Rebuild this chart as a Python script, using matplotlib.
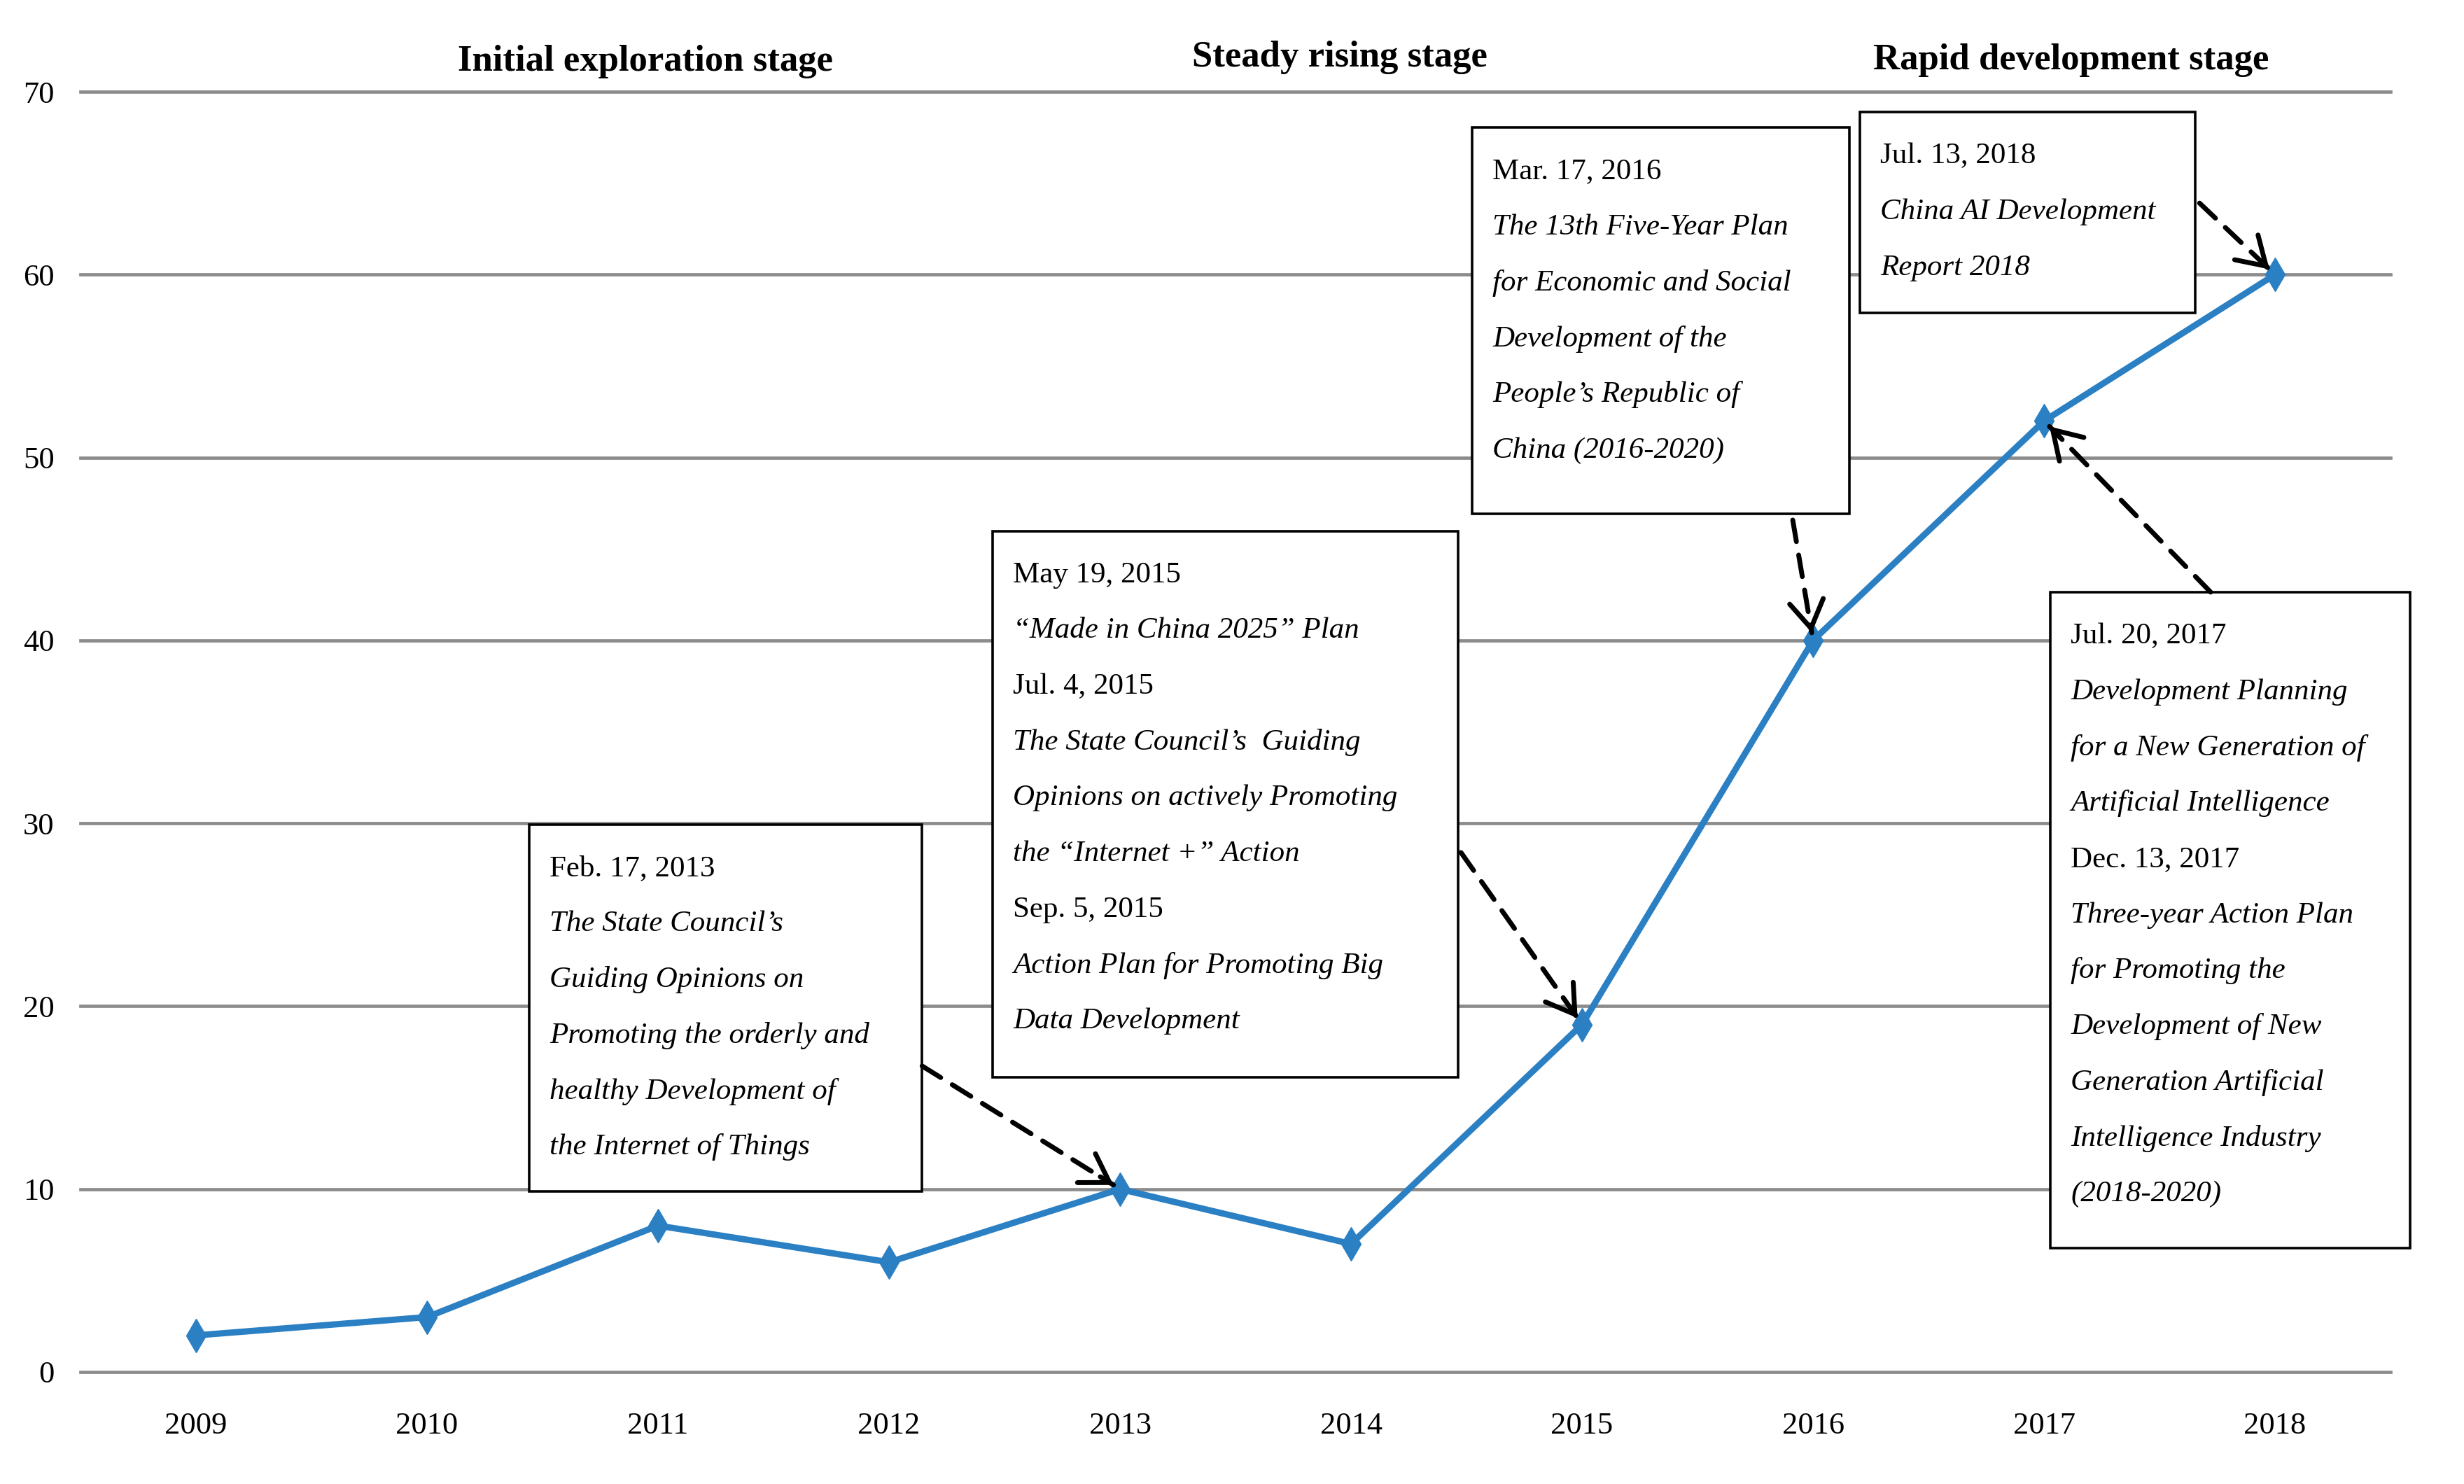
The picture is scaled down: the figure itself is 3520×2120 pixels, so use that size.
import matplotlib.pyplot as plt
from matplotlib.patches import Rectangle

# 資料
years = [2009, 2010, 2011, 2012, 2013, 2014, 2015, 2016, 2017, 2018]
values = [2, 3, 8, 6, 10, 7, 19, 40, 52, 60]
yticks = [0, 10, 20, 30, 40, 50, 60, 70]
stages = ["Initial exploration stage", "Steady rising stage", "Rapid development stage"]

# 政策說明 (日期, 政策名稱各行)
notes_2013 = [("Feb. 17, 2013", ["The State Council’s", "Guiding Opinions on",
                                 "Promoting the orderly and", "healthy Development of",
                                 "the Internet of Things"])]
notes_2015 = [("May 19, 2015", ["“Made in China 2025” Plan"]),
              ("Jul. 4, 2015", ["The State Council’s  Guiding", "Opinions on actively Promoting",
                                "the “Internet +” Action"]),
              ("Sep. 5, 2015", ["Action Plan for Promoting Big", "Data Development"])]
notes_2016 = [("Mar. 17, 2016", ["The 13th Five-Year Plan", "for Economic and Social",
                                 "Development of the", "People’s Republic of",
                                 "China (2016-2020)"])]
notes_2018 = [("Jul. 13, 2018", ["China AI Development", "Report 2018"])]
notes_2017 = [("Jul. 20, 2017", ["Development Planning", "for a New Generation of",
                                 "Artificial Intelligence"]),
              ("Dec. 13, 2017", ["Three-year Action Plan", "for Promoting the",
                                 "Development of New", "Generation Artificial",
                                 "Intelligence Industry", "(2018-2020)"])]

plt.rcParams['font.family'] = ['Liberation Serif', 'DejaVu Serif']

fig = plt.figure(figsize=(35.2, 21.2), dpi=100)
ax = fig.add_axes([0.0327, 0.0755, 0.9375, 0.8627])
ax.set_xlim(2008.5, 2018.5)
ax.set_ylim(0, 70)

# 格線
for v in yticks:
    ax.axhline(v, color='#8c8c8c', lw=3.4, zorder=0, clip_on=False)

# 折線
ax.plot(years, values, color='#2b7fc3', lw=6.5, marker='d', markersize=24,
        zorder=3, clip_on=False)

ax.set_xticks(years)
ax.set_xticklabels([str(y) for y in years], fontsize=32)
ax.set_yticks(yticks)
ax.set_yticklabels([str(v) for v in yticks], fontsize=32)
ax.tick_params(axis='x', length=0, pad=41)
ax.tick_params(axis='y', length=0, pad=27)
for s in ax.spines.values():
    s.set_visible(False)

# 階段標題
stage_x = [2010.946, 2013.952, 2017.116]
stage_y = [71.63, 71.89, 71.72]
for t, x, y in zip(stages, stage_x, stage_y):
    ax.text(x, y, t, fontsize=38, fontweight='bold', ha='center', va='center', clip_on=False)

# 文字框: (內容, 左, 下, 右, 上, 第一行 y, 箭頭起點, 指向年份)
boxes = [
    (notes_2013, 2010.442, 9.87, 2012.143, 29.94, 27.54, (2012.143, 16.73), 2013),
    (notes_2015, 2012.449, 16.13, 2014.463, 45.98, 43.58, (2014.476, 28.40), 2015),
    (notes_2016, 2014.524, 46.92, 2016.156, 68.03, 65.63, (2015.912, 46.58), 2016),
    (notes_2018, 2016.204, 57.90, 2017.653, 68.88, 66.48, (2017.673, 63.91), 2018),
    (notes_2017, 2017.027, 6.78, 2018.585, 42.64, 40.23, (2017.721, 42.64), 2017),
]
step = 3.05
for notes, x0, y0, x1, y1, ty, start, yr in boxes:
    ax.add_patch(Rectangle((x0, y0), x1 - x0, y1 - y0, facecolor='white',
                           edgecolor='black', lw=2.6, zorder=2, clip_on=False))
    y = ty
    for date, lines in notes:
        ax.text(x0 + 0.088, y, date, fontsize=31, va='center', ha='left', zorder=5, clip_on=False)
        y -= step
        for ln in lines:
            ax.text(x0 + 0.088, y, ln, fontsize=31, style='italic', va='center',
                    ha='left', zorder=5, clip_on=False)
            y -= step
    # 虛線箭頭
    px = yr
    py = values[years.index(yr)]
    ax.annotate('', xy=(px, py), xytext=start,
                arrowprops=dict(arrowstyle='-', color='black', lw=5,
                                linestyle=(0, (4.5, 2.8)), shrinkA=0, shrinkB=8),
                zorder=4, annotation_clip=False)
    mx = px + 0.1 * (start[0] - px)
    my = py + 0.1 * (start[1] - py)
    ax.annotate('', xy=(px, py), xytext=(mx, my),
                arrowprops=dict(arrowstyle='->,head_length=0.4,head_width=0.25',
                                color='black', lw=5, mutation_scale=70,
                                shrinkA=0, shrinkB=8),
                zorder=4, annotation_clip=False)

fig.savefig('out.png', dpi=100, facecolor='white')
